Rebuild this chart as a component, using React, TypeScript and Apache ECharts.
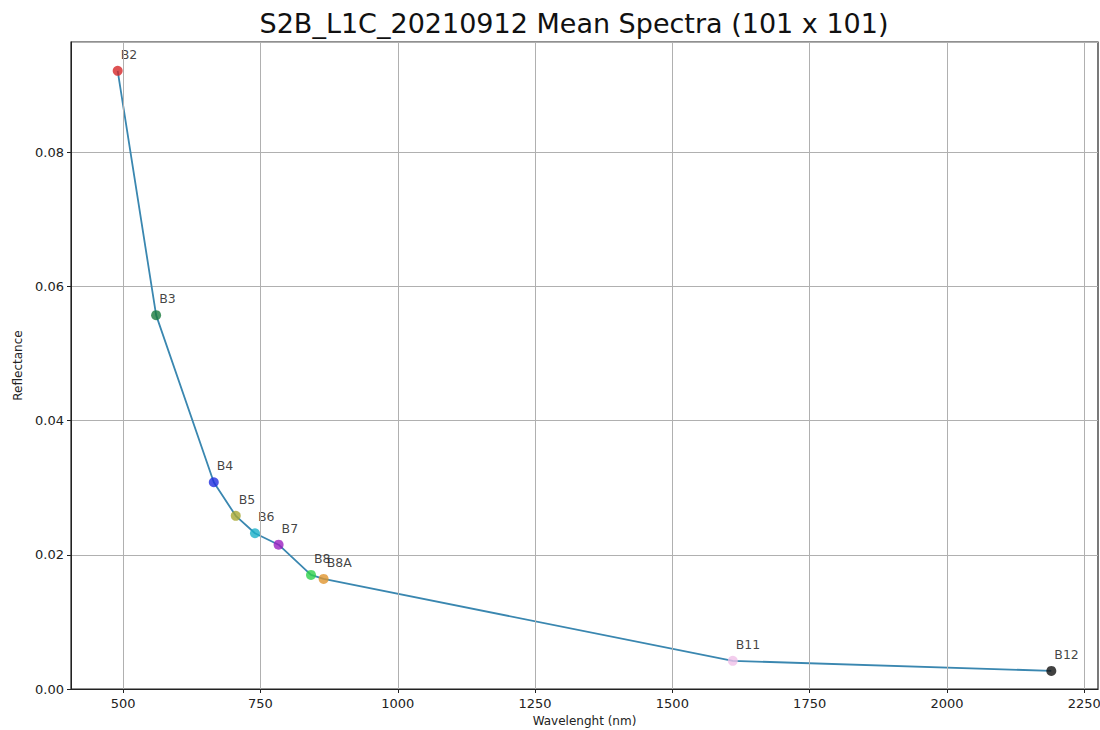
import React, { useEffect, useRef } from "react";
import * as echarts from "echarts";

const bands = ["B2", "B3", "B4", "B5", "B6", "B7", "B8", "B8A", "B11", "B12"];
const wavelengths = [490, 560, 665, 705, 740, 783, 842, 865, 1610, 2190];
const reflectance = [0.0921, 0.0557, 0.0308, 0.0258, 0.0232, 0.0215, 0.017, 0.0164, 0.0042, 0.0027];
const pointColors = ["#d62728", "#1a7a3c", "#1f2ee0", "#a8a832", "#1cb0c8", "#9b1fc0", "#2ed14a", "#e0952e", "#f0c0e8", "#111111"];
const xTicks = [500, 750, 1000, 1250, 1500, 1750, 2000, 2250];

export default function App() {
  const ref = useRef<HTMLDivElement>(null);
  useEffect(() => {
    document.body.style.margin = "0";
    const chart = echarts.init(ref.current!, null, { renderer: "svg" });
    const font = "DejaVu Sans";
    chart.setOption({
      animation: false,
      backgroundColor: "#ffffff",
      title: {
        text: "S2B_L1C_20210912 Mean Spectra (101 x 101)",
        left: 569,
        top: 5,
        textAlign: "center",
        textStyle: { fontFamily: font, fontSize: 27, fontWeight: "normal", color: "#111" },
      },
      grid: {
        left: 71,
        right: 2,
        top: 42,
        bottom: 41,
        show: true,
        borderColor: "#222",
        borderWidth: 1.2,
        outerBoundsMode: "none",
        containLabel: false,
      },
      xAxis: {
        type: "value",
        min: 405,
        max: 2275,
        name: "Wavelenght (nm)",
        nameLocation: "middle",
        nameGap: 26,
        nameTextStyle: { fontFamily: font, fontSize: 12, color: "#222" },
        axisLine: { show: true, onZero: false, lineStyle: { color: "#222" } },
        axisTick: { show: true, length: 4, lineStyle: { color: "#222" }, customValues: xTicks },
        axisLabel: {
          fontFamily: font,
          fontSize: 13,
          color: "#222",
          margin: 8,
          customValues: xTicks,
          formatter: (v: number) => String(v),
        },
        splitLine: { show: false },
      },
      yAxis: {
        type: "value",
        min: 0,
        max: 0.0964,
        interval: 0.02,
        name: "Reflectance",
        nameLocation: "middle",
        nameGap: 44,
        nameTextStyle: { fontFamily: font, fontSize: 12, color: "#222" },
        axisLine: { show: true, lineStyle: { color: "#222" } },
        axisTick: { show: true, length: 4, lineStyle: { color: "#222" } },
        axisLabel: {
          fontFamily: font,
          fontSize: 13,
          color: "#222",
          margin: 7,
          showMaxLabel: false,
          formatter: (v: number) => v.toFixed(2),
        },
        splitLine: { show: true, lineStyle: { color: "#b0b0b0", width: 1 } },
      },
      series: [
        {
          type: "line",
          data: wavelengths.map((w, i) => [w, reflectance[i]]),
          symbol: "none",
          lineStyle: { color: "#3a87b0", width: 1.8 },
          z: 2,
          markLine: {
            silent: true,
            symbol: "none",
            label: { show: false },
            lineStyle: { color: "#b0b0b0", width: 1, type: "solid" },
            data: xTicks.map((t) => ({ xAxis: t })),
          },
        },
        {
          type: "scatter",
          data: wavelengths.map((w, i) => ({
            value: [w, reflectance[i]],
            name: bands[i],
            itemStyle: { color: pointColors[i] },
          })),
          symbolSize: 10,
          z: 3,
          label: {
            show: true,
            formatter: (p: any) => p.name,
            position: "top",
            align: "left",
            offset: [3, 0],
            fontFamily: font,
            fontSize: 12.5,
            color: "#111",
          },
        },
      ],
    });
    return () => chart.dispose();
  }, []);
  return <div ref={ref} style={{ width: 1100, height: 730 }} />;
}
